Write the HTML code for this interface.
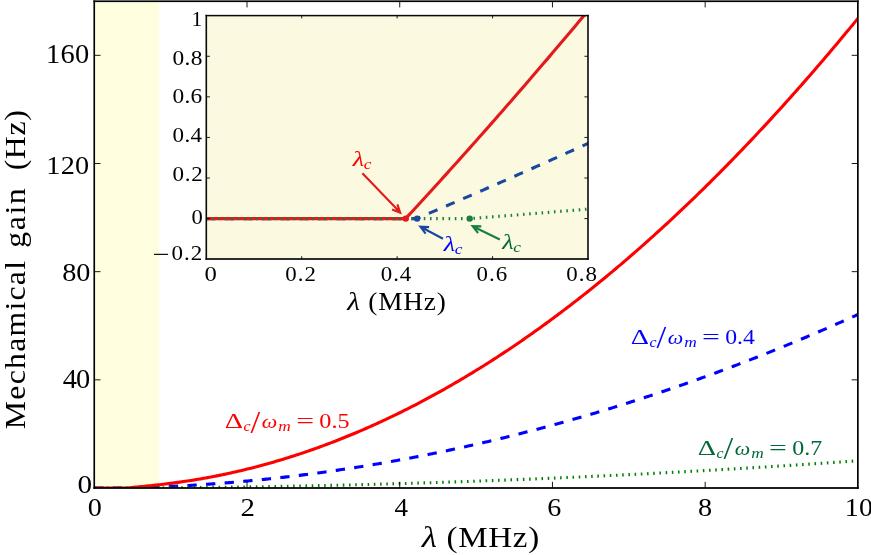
<!DOCTYPE html>
<html lang="en">
<head>
<meta charset="utf-8">
<title>Mechanical gain vs lambda</title>
<style>
html,body{margin:0;padding:0;background:#fff;}
body{width:871px;height:555px;overflow:hidden;}
svg{display:block;}
text{font-family:"Liberation Serif","DejaVu Serif",serif;}
</style>
</head>
<body>
<svg width="871" height="555" viewBox="0 0 871 555">
<rect x="0" y="0" width="871" height="555" fill="#fff"/>
<!-- shaded band -->
<rect x="94.3" y="1.25" width="64.9" height="486.75" fill="#ffffe0"/>
<!-- main curves -->
<defs><clipPath id="cm"><rect x="94.3" y="1.25" width="763.6" height="486.75"/></clipPath><clipPath id="ci"><rect x="206.3" y="15.6" width="381.7" height="243.4"/></clipPath></defs>
<g fill="none" stroke-linejoin="round" stroke-width="3.1" clip-path="url(#cm)">
<path d="M94.3,488 L127.97,488 L129.82,487.96 L131.66,487.91 L133.51,487.86 L135.35,487.81 L137.19,487.76 L139.04,487.71 L140.88,487.65 L142.73,487.59 L144.57,487.53 L146.41,487.47 L148.26,487.4 L150.1,487.34 L151.95,487.27 L153.79,487.2 L155.63,487.13 L157.48,487.05 L159.32,486.98 L161.17,486.9 L163.01,486.82 L164.85,486.74 L166.7,486.65 L168.54,486.57 L170.38,486.48 L172.23,486.39 L174.07,486.3 L175.92,486.2 L177.76,486.11 L179.6,486.01 L181.45,485.91 L183.29,485.81 L185.14,485.7 L186.98,485.6 L188.82,485.49 L190.67,485.38 L192.51,485.27 L194.36,485.15 L196.2,485.04 L198.04,484.92 L199.89,484.8 L201.73,484.68 L203.57,484.55 L205.42,484.43 L207.26,484.3 L209.11,484.17 L210.95,484.04 L212.79,483.9 L214.64,483.77 L216.48,483.63 L218.33,483.49 L220.17,483.35 L222.01,483.2 L223.86,483.06 L225.7,482.91 L227.55,482.76 L229.39,482.61 L231.23,482.46 L233.08,482.3 L234.92,482.14 L236.77,481.98 L238.61,481.82 L240.45,481.66 L242.3,481.49 L244.14,481.32 L245.98,481.15 L247.83,480.98 L249.67,480.81 L251.52,480.63 L253.36,480.45 L255.2,480.27 L257.05,480.09 L258.89,479.91 L260.74,479.72 L262.58,479.53 L264.42,479.34 L266.27,479.15 L268.11,478.96 L269.96,478.76 L271.8,478.56 L273.64,478.36 L275.49,478.16 L277.33,477.96 L279.17,477.75 L281.02,477.55 L282.86,477.34 L284.71,477.12 L286.55,476.91 L288.39,476.69 L290.24,476.48 L292.08,476.26 L293.93,476.03 L295.77,475.81 L297.61,475.59 L299.46,475.36 L301.3,475.13 L303.15,474.9 L304.99,474.66 L306.83,474.43 L308.68,474.19 L310.52,473.95 L312.37,473.71 L314.21,473.46 L316.05,473.22 L317.9,472.97 L319.74,472.72 L321.58,472.47 L323.43,472.21 L325.27,471.96 L327.12,471.7 L328.96,471.44 L330.8,471.18 L332.65,470.92 L334.49,470.65 L336.34,470.38 L338.18,470.11 L340.02,469.84 L341.87,469.57 L343.71,469.29 L345.56,469.01 L347.4,468.73 L349.24,468.45 L351.09,468.17 L352.93,467.88 L354.77,467.6 L356.62,467.31 L358.46,467.01 L360.31,466.72 L362.15,466.43 L363.99,466.13 L365.84,465.83 L367.68,465.53 L369.53,465.22 L371.37,464.92 L373.21,464.61 L375.06,464.3 L376.9,463.99 L378.75,463.67 L380.59,463.36 L382.43,463.04 L384.28,462.72 L386.12,462.4 L387.97,462.08 L389.81,461.75 L391.65,461.42 L393.5,461.09 L395.34,460.76 L397.18,460.43 L399.03,460.09 L400.87,459.76 L402.72,459.42 L404.56,459.07 L406.4,458.73 L408.25,458.39 L410.09,458.04 L411.94,457.69 L413.78,457.34 L415.62,456.98 L417.47,456.63 L419.31,456.27 L421.16,455.91 L423,455.55 L424.84,455.19 L426.69,454.82 L428.53,454.45 L430.37,454.08 L432.22,453.71 L434.06,453.34 L435.91,452.96 L437.75,452.59 L439.59,452.21 L441.44,451.82 L443.28,451.44 L445.13,451.06 L446.97,450.67 L448.81,450.28 L450.66,449.89 L452.5,449.49 L454.35,449.1 L456.19,448.7 L458.03,448.3 L459.88,447.9 L461.72,447.5 L463.57,447.09 L465.41,446.68 L467.25,446.27 L469.1,445.86 L470.94,445.45 L472.78,445.03 L474.63,444.62 L476.47,444.2 L478.32,443.78 L480.16,443.35 L482,442.93 L483.85,442.5 L485.69,442.07 L487.54,441.64 L489.38,441.21 L491.22,440.77 L493.07,440.33 L494.91,439.89 L496.76,439.45 L498.6,439.01 L500.44,438.56 L502.29,438.12 L504.13,437.67 L505.97,437.22 L507.82,436.76 L509.66,436.31 L511.51,435.85 L513.35,435.39 L515.19,434.93 L517.04,434.47 L518.88,434 L520.73,433.53 L522.57,433.06 L524.41,432.59 L526.26,432.12 L528.1,431.64 L529.95,431.17 L531.79,430.69 L533.63,430.21 L535.48,429.72 L537.32,429.24 L539.17,428.75 L541.01,428.26 L542.85,427.77 L544.7,427.28 L546.54,426.78 L548.38,426.28 L550.23,425.78 L552.07,425.28 L553.92,424.78 L555.76,424.27 L557.6,423.77 L559.45,423.26 L561.29,422.75 L563.14,422.23 L564.98,421.72 L566.82,421.2 L568.67,420.68 L570.51,420.16 L572.36,419.64 L574.2,419.11 L576.04,418.58 L577.89,418.06 L579.73,417.52 L581.57,416.99 L583.42,416.46 L585.26,415.92 L587.11,415.38 L588.95,414.84 L590.79,414.3 L592.64,413.75 L594.48,413.2 L596.33,412.65 L598.17,412.1 L600.01,411.55 L601.86,410.99 L603.7,410.44 L605.55,409.88 L607.39,409.32 L609.23,408.75 L611.08,408.19 L612.92,407.62 L614.77,407.05 L616.61,406.48 L618.45,405.91 L620.3,405.33 L622.14,404.76 L623.98,404.18 L625.83,403.6 L627.67,403.01 L629.52,402.43 L631.36,401.84 L633.2,401.25 L635.05,400.66 L636.89,400.07 L638.74,399.47 L640.58,398.87 L642.42,398.28 L644.27,397.67 L646.11,397.07 L647.96,396.47 L649.8,395.86 L651.64,395.25 L653.49,394.64 L655.33,394.03 L657.17,393.41 L659.02,392.79 L660.86,392.18 L662.71,391.55 L664.55,390.93 L666.39,390.31 L668.24,389.68 L670.08,389.05 L671.93,388.42 L673.77,387.79 L675.61,387.15 L677.46,386.51 L679.3,385.88 L681.15,385.23 L682.99,384.59 L684.83,383.95 L686.68,383.3 L688.52,382.65 L690.37,382 L692.21,381.35 L694.05,380.69 L695.9,380.03 L697.74,379.38 L699.58,378.71 L701.43,378.05 L703.27,377.39 L705.12,376.72 L706.96,376.05 L708.8,375.38 L710.65,374.71 L712.49,374.03 L714.34,373.36 L716.18,372.68 L718.02,372 L719.87,371.31 L721.71,370.63 L723.56,369.94 L725.4,369.25 L727.24,368.56 L729.09,367.87 L730.93,367.17 L732.77,366.48 L734.62,365.78 L736.46,365.08 L738.31,364.37 L740.15,363.67 L741.99,362.96 L743.84,362.25 L745.68,361.54 L747.53,360.83 L749.37,360.11 L751.21,359.4 L753.06,358.68 L754.9,357.96 L756.75,357.23 L758.59,356.51 L760.43,355.78 L762.28,355.05 L764.12,354.32 L765.97,353.59 L767.81,352.86 L769.65,352.12 L771.5,351.38 L773.34,350.64 L775.18,349.9 L777.03,349.15 L778.87,348.41 L780.72,347.66 L782.56,346.91 L784.4,346.15 L786.25,345.4 L788.09,344.64 L789.94,343.88 L791.78,343.12 L793.62,342.36 L795.47,341.59 L797.31,340.83 L799.16,340.06 L801,339.29 L802.84,338.52 L804.69,337.74 L806.53,336.96 L808.38,336.19 L810.22,335.4 L812.06,334.62 L813.91,333.84 L815.75,333.05 L817.59,332.26 L819.44,331.47 L821.28,330.68 L823.13,329.88 L824.97,329.09 L826.81,328.29 L828.66,327.49 L830.5,326.68 L832.35,325.88 L834.19,325.07 L836.03,324.26 L837.88,323.45 L839.72,322.64 L841.57,321.83 L843.41,321.01 L845.25,320.19 L847.1,319.37 L848.94,318.55 L850.78,317.72 L852.63,316.9 L854.47,316.07 L856.32,315.24 L858.16,314.4 L860,313.57 L861.85,312.73 L863.69,311.89 L865.54,311.05" stroke="#0000ff" stroke-dasharray="9.32 9.32"/>
<path d="M94.3,488 L126.22,488 L128.07,487.83 L129.92,487.67 L131.76,487.5 L133.61,487.33 L135.46,487.16 L137.31,486.99 L139.16,486.82 L141,486.64 L142.85,486.46 L144.7,486.28 L146.55,486.09 L148.4,485.91 L150.25,485.72 L152.09,485.52 L153.94,485.32 L155.79,485.12 L157.64,484.91 L159.49,484.7 L161.34,484.49 L163.18,484.27 L165.03,484.05 L166.88,483.82 L168.73,483.59 L170.58,483.35 L172.43,483.11 L174.27,482.87 L176.12,482.62 L177.97,482.37 L179.82,482.11 L181.67,481.84 L183.52,481.57 L185.36,481.3 L187.21,481.02 L189.06,480.74 L190.91,480.45 L192.76,480.16 L194.61,479.86 L196.45,479.55 L198.3,479.24 L200.15,478.93 L202,478.61 L203.85,478.29 L205.7,477.96 L207.54,477.62 L209.39,477.28 L211.24,476.93 L213.09,476.58 L214.94,476.22 L216.78,475.86 L218.63,475.49 L220.48,475.12 L222.33,474.74 L224.18,474.36 L226.03,473.97 L227.87,473.57 L229.72,473.17 L231.57,472.76 L233.42,472.35 L235.27,471.93 L237.12,471.51 L238.96,471.08 L240.81,470.65 L242.66,470.21 L244.51,469.76 L246.36,469.31 L248.21,468.86 L250.05,468.4 L251.9,467.93 L253.75,467.46 L255.6,466.98 L257.45,466.49 L259.3,466.01 L261.14,465.51 L262.99,465.01 L264.84,464.51 L266.69,463.99 L268.54,463.48 L270.39,462.96 L272.23,462.43 L274.08,461.9 L275.93,461.36 L277.78,460.81 L279.63,460.26 L281.48,459.71 L283.32,459.15 L285.17,458.58 L287.02,458.01 L288.87,457.43 L290.72,456.85 L292.56,456.26 L294.41,455.67 L296.26,455.07 L298.11,454.46 L299.96,453.85 L301.81,453.24 L303.65,452.62 L305.5,451.99 L307.35,451.36 L309.2,450.72 L311.05,450.08 L312.9,449.43 L314.74,448.77 L316.59,448.12 L318.44,447.45 L320.29,446.78 L322.14,446.1 L323.99,445.42 L325.83,444.73 L327.68,444.04 L329.53,443.34 L331.38,442.64 L333.23,441.93 L335.08,441.22 L336.92,440.5 L338.77,439.77 L340.62,439.04 L342.47,438.3 L344.32,437.56 L346.17,436.81 L348.01,436.06 L349.86,435.3 L351.71,434.54 L353.56,433.77 L355.41,432.99 L357.26,432.21 L359.1,431.42 L360.95,430.63 L362.8,429.84 L364.65,429.03 L366.5,428.23 L368.34,427.41 L370.19,426.59 L372.04,425.77 L373.89,424.94 L375.74,424.1 L377.59,423.26 L379.43,422.41 L381.28,421.56 L383.13,420.7 L384.98,419.84 L386.83,418.97 L388.68,418.1 L390.52,417.22 L392.37,416.33 L394.22,415.44 L396.07,414.55 L397.92,413.64 L399.77,412.74 L401.61,411.82 L403.46,410.91 L405.31,409.98 L407.16,409.05 L409.01,408.12 L410.86,407.18 L412.7,406.23 L414.55,405.28 L416.4,404.32 L418.25,403.36 L420.1,402.39 L421.95,401.42 L423.79,400.44 L425.64,399.46 L427.49,398.47 L429.34,397.47 L431.19,396.47 L433.04,395.46 L434.88,394.45 L436.73,393.43 L438.58,392.41 L440.43,391.38 L442.28,390.35 L444.13,389.31 L445.97,388.26 L447.82,387.21 L449.67,386.16 L451.52,385.1 L453.37,384.03 L455.21,382.96 L457.06,381.88 L458.91,380.79 L460.76,379.7 L462.61,378.61 L464.46,377.51 L466.3,376.4 L468.15,375.29 L470,374.17 L471.85,373.05 L473.7,371.92 L475.55,370.79 L477.39,369.65 L479.24,368.51 L481.09,367.36 L482.94,366.2 L484.79,365.04 L486.64,363.87 L488.48,362.7 L490.33,361.52 L492.18,360.34 L494.03,359.15 L495.88,357.96 L497.73,356.76 L499.57,355.55 L501.42,354.34 L503.27,353.13 L505.12,351.9 L506.97,350.68 L508.82,349.44 L510.66,348.21 L512.51,346.96 L514.36,345.71 L516.21,344.46 L518.06,343.2 L519.91,341.93 L521.75,340.66 L523.6,339.38 L525.45,338.1 L527.3,336.81 L529.15,335.52 L530.99,334.22 L532.84,332.91 L534.69,331.6 L536.54,330.29 L538.39,328.97 L540.24,327.64 L542.08,326.31 L543.93,324.97 L545.78,323.63 L547.63,322.28 L549.48,320.92 L551.33,319.56 L553.17,318.2 L555.02,316.83 L556.87,315.45 L558.72,314.07 L560.57,312.68 L562.42,311.29 L564.26,309.89 L566.11,308.49 L567.96,307.08 L569.81,305.66 L571.66,304.24 L573.51,302.82 L575.35,301.38 L577.2,299.95 L579.05,298.5 L580.9,297.06 L582.75,295.6 L584.6,294.14 L586.44,292.68 L588.29,291.21 L590.14,289.73 L591.99,288.25 L593.84,286.77 L595.69,285.27 L597.53,283.78 L599.38,282.27 L601.23,280.76 L603.08,279.25 L604.93,277.73 L606.77,276.21 L608.62,274.68 L610.47,273.14 L612.32,271.6 L614.17,270.05 L616.02,268.5 L617.86,266.94 L619.71,265.38 L621.56,263.81 L623.41,262.23 L625.26,260.65 L627.11,259.07 L628.95,257.48 L630.8,255.88 L632.65,254.28 L634.5,252.67 L636.35,251.06 L638.2,249.44 L640.04,247.81 L641.89,246.18 L643.74,244.55 L645.59,242.91 L647.44,241.26 L649.29,239.61 L651.13,237.96 L652.98,236.29 L654.83,234.63 L656.68,232.95 L658.53,231.27 L660.38,229.59 L662.22,227.9 L664.07,226.2 L665.92,224.5 L667.77,222.8 L669.62,221.09 L671.47,219.37 L673.31,217.65 L675.16,215.92 L677.01,214.19 L678.86,212.45 L680.71,210.7 L682.55,208.95 L684.4,207.2 L686.25,205.44 L688.1,203.67 L689.95,201.9 L691.8,200.12 L693.64,198.34 L695.49,196.55 L697.34,194.76 L699.19,192.96 L701.04,191.16 L702.89,189.35 L704.73,187.53 L706.58,185.71 L708.43,183.89 L710.28,182.05 L712.13,180.22 L713.98,178.38 L715.82,176.53 L717.67,174.68 L719.52,172.82 L721.37,170.95 L723.22,169.08 L725.07,167.21 L726.91,165.33 L728.76,163.44 L730.61,161.55 L732.46,159.66 L734.31,157.75 L736.16,155.85 L738,153.93 L739.85,152.02 L741.7,150.09 L743.55,148.16 L745.4,146.23 L747.25,144.29 L749.09,142.35 L750.94,140.4 L752.79,138.44 L754.64,136.48 L756.49,134.51 L758.33,132.54 L760.18,130.56 L762.03,128.58 L763.88,126.59 L765.73,124.6 L767.58,122.6 L769.42,120.6 L771.27,118.59 L773.12,116.57 L774.97,114.55 L776.82,112.53 L778.67,110.5 L780.51,108.46 L782.36,106.42 L784.21,104.37 L786.06,102.32 L787.91,100.26 L789.76,98.2 L791.6,96.13 L793.45,94.06 L795.3,91.98 L797.15,89.89 L799,87.8 L800.85,85.71 L802.69,83.61 L804.54,81.5 L806.39,79.39 L808.24,77.27 L810.09,75.15 L811.94,73.03 L813.78,70.89 L815.63,68.76 L817.48,66.61 L819.33,64.46 L821.18,62.31 L823.03,60.15 L824.87,57.99 L826.72,55.82 L828.57,53.64 L830.42,51.46 L832.27,49.28 L834.12,47.09 L835.96,44.89 L837.81,42.69 L839.66,40.48 L841.51,38.27 L843.36,36.06 L845.2,33.83 L847.05,31.61 L848.9,29.37 L850.75,27.13 L852.6,24.89 L854.45,22.64 L856.29,20.39 L858.14,18.13 L859.99,15.87 L861.84,13.6 L863.69,11.33 L865.54,9.05" stroke="#ff0000"/>
<path d="M94.3,488 L136.45,488 L138.27,487.99 L140.1,487.98 L141.92,487.97 L143.74,487.97 L145.56,487.96 L147.39,487.95 L149.21,487.94 L151.03,487.93 L152.86,487.91 L154.68,487.9 L156.5,487.89 L158.32,487.88 L160.15,487.87 L161.97,487.86 L163.79,487.84 L165.61,487.83 L167.44,487.82 L169.26,487.8 L171.08,487.79 L172.9,487.78 L174.73,487.76 L176.55,487.75 L178.37,487.73 L180.2,487.72 L182.02,487.7 L183.84,487.69 L185.66,487.67 L187.49,487.65 L189.31,487.64 L191.13,487.62 L192.95,487.6 L194.78,487.58 L196.6,487.57 L198.42,487.55 L200.25,487.53 L202.07,487.51 L203.89,487.49 L205.71,487.47 L207.54,487.45 L209.36,487.43 L211.18,487.41 L213,487.39 L214.83,487.37 L216.65,487.35 L218.47,487.32 L220.3,487.3 L222.12,487.28 L223.94,487.26 L225.76,487.23 L227.59,487.21 L229.41,487.19 L231.23,487.16 L233.05,487.14 L234.88,487.11 L236.7,487.09 L238.52,487.07 L240.35,487.04 L242.17,487.01 L243.99,486.99 L245.81,486.96 L247.64,486.93 L249.46,486.91 L251.28,486.88 L253.1,486.85 L254.93,486.83 L256.75,486.8 L258.57,486.77 L260.4,486.74 L262.22,486.71 L264.04,486.68 L265.86,486.65 L267.69,486.62 L269.51,486.59 L271.33,486.56 L273.15,486.53 L274.98,486.5 L276.8,486.47 L278.62,486.43 L280.45,486.4 L282.27,486.37 L284.09,486.34 L285.91,486.3 L287.74,486.27 L289.56,486.24 L291.38,486.2 L293.2,486.17 L295.03,486.13 L296.85,486.1 L298.67,486.06 L300.49,486.03 L302.32,485.99 L304.14,485.96 L305.96,485.92 L307.79,485.88 L309.61,485.85 L311.43,485.81 L313.25,485.77 L315.08,485.73 L316.9,485.69 L318.72,485.66 L320.54,485.62 L322.37,485.58 L324.19,485.54 L326.01,485.5 L327.84,485.46 L329.66,485.42 L331.48,485.38 L333.3,485.34 L335.13,485.29 L336.95,485.25 L338.77,485.21 L340.59,485.17 L342.42,485.13 L344.24,485.08 L346.06,485.04 L347.89,485 L349.71,484.95 L351.53,484.91 L353.35,484.86 L355.18,484.82 L357,484.77 L358.82,484.73 L360.64,484.68 L362.47,484.64 L364.29,484.59 L366.11,484.54 L367.94,484.5 L369.76,484.45 L371.58,484.4 L373.4,484.35 L375.23,484.31 L377.05,484.26 L378.87,484.21 L380.69,484.16 L382.52,484.11 L384.34,484.06 L386.16,484.01 L387.99,483.96 L389.81,483.91 L391.63,483.86 L393.45,483.81 L395.28,483.76 L397.1,483.71 L398.92,483.65 L400.74,483.6 L402.57,483.55 L404.39,483.49 L406.21,483.44 L408.03,483.39 L409.86,483.33 L411.68,483.28 L413.5,483.23 L415.33,483.17 L417.15,483.12 L418.97,483.06 L420.79,483 L422.62,482.95 L424.44,482.89 L426.26,482.83 L428.08,482.78 L429.91,482.72 L431.73,482.66 L433.55,482.6 L435.38,482.55 L437.2,482.49 L439.02,482.43 L440.84,482.37 L442.67,482.31 L444.49,482.25 L446.31,482.19 L448.13,482.13 L449.96,482.07 L451.78,482.01 L453.6,481.95 L455.43,481.89 L457.25,481.82 L459.07,481.76 L460.89,481.7 L462.72,481.64 L464.54,481.57 L466.36,481.51 L468.18,481.45 L470.01,481.38 L471.83,481.32 L473.65,481.25 L475.48,481.19 L477.3,481.12 L479.12,481.06 L480.94,480.99 L482.77,480.92 L484.59,480.86 L486.41,480.79 L488.23,480.72 L490.06,480.66 L491.88,480.59 L493.7,480.52 L495.53,480.45 L497.35,480.38 L499.17,480.31 L500.99,480.25 L502.82,480.18 L504.64,480.11 L506.46,480.04 L508.28,479.97 L510.11,479.89 L511.93,479.82 L513.75,479.75 L515.58,479.68 L517.4,479.61 L519.22,479.54 L521.04,479.46 L522.87,479.39 L524.69,479.32 L526.51,479.24 L528.33,479.17 L530.16,479.1 L531.98,479.02 L533.8,478.95 L535.62,478.87 L537.45,478.8 L539.27,478.72 L541.09,478.64 L542.92,478.57 L544.74,478.49 L546.56,478.41 L548.38,478.34 L550.21,478.26 L552.03,478.18 L553.85,478.1 L555.67,478.02 L557.5,477.95 L559.32,477.87 L561.14,477.79 L562.97,477.71 L564.79,477.63 L566.61,477.55 L568.43,477.47 L570.26,477.39 L572.08,477.3 L573.9,477.22 L575.72,477.14 L577.55,477.06 L579.37,476.98 L581.19,476.89 L583.02,476.81 L584.84,476.73 L586.66,476.64 L588.48,476.56 L590.31,476.48 L592.13,476.39 L593.95,476.31 L595.77,476.22 L597.6,476.14 L599.42,476.05 L601.24,475.96 L603.07,475.88 L604.89,475.79 L606.71,475.7 L608.53,475.62 L610.36,475.53 L612.18,475.44 L614,475.35 L615.82,475.26 L617.65,475.17 L619.47,475.08 L621.29,475 L623.12,474.91 L624.94,474.82 L626.76,474.72 L628.58,474.63 L630.41,474.54 L632.23,474.45 L634.05,474.36 L635.87,474.27 L637.7,474.18 L639.52,474.08 L641.34,473.99 L643.16,473.9 L644.99,473.8 L646.81,473.71 L648.63,473.62 L650.46,473.52 L652.28,473.43 L654.1,473.33 L655.92,473.24 L657.75,473.14 L659.57,473.04 L661.39,472.95 L663.21,472.85 L665.04,472.75 L666.86,472.66 L668.68,472.56 L670.51,472.46 L672.33,472.36 L674.15,472.27 L675.97,472.17 L677.8,472.07 L679.62,471.97 L681.44,471.87 L683.26,471.77 L685.09,471.67 L686.91,471.57 L688.73,471.47 L690.56,471.37 L692.38,471.26 L694.2,471.16 L696.02,471.06 L697.85,470.96 L699.67,470.86 L701.49,470.75 L703.31,470.65 L705.14,470.55 L706.96,470.44 L708.78,470.34 L710.61,470.23 L712.43,470.13 L714.25,470.02 L716.07,469.92 L717.9,469.81 L719.72,469.71 L721.54,469.6 L723.36,469.49 L725.19,469.39 L727.01,469.28 L728.83,469.17 L730.66,469.06 L732.48,468.95 L734.3,468.85 L736.12,468.74 L737.95,468.63 L739.77,468.52 L741.59,468.41 L743.41,468.3 L745.24,468.19 L747.06,468.08 L748.88,467.97 L750.71,467.86 L752.53,467.74 L754.35,467.63 L756.17,467.52 L758,467.41 L759.82,467.29 L761.64,467.18 L763.46,467.07 L765.29,466.95 L767.11,466.84 L768.93,466.73 L770.75,466.61 L772.58,466.5 L774.4,466.38 L776.22,466.27 L778.05,466.15 L779.87,466.03 L781.69,465.92 L783.51,465.8 L785.34,465.68 L787.16,465.57 L788.98,465.45 L790.8,465.33 L792.63,465.21 L794.45,465.09 L796.27,464.97 L798.1,464.85 L799.92,464.74 L801.74,464.62 L803.56,464.5 L805.39,464.37 L807.21,464.25 L809.03,464.13 L810.85,464.01 L812.68,463.89 L814.5,463.77 L816.32,463.65 L818.15,463.52 L819.97,463.4 L821.79,463.28 L823.61,463.15 L825.44,463.03 L827.26,462.91 L829.08,462.78 L830.9,462.66 L832.73,462.53 L834.55,462.41 L836.37,462.28 L838.2,462.15 L840.02,462.03 L841.84,461.9 L843.66,461.77 L845.49,461.65 L847.31,461.52 L849.13,461.39 L850.95,461.26 L852.78,461.13 L854.6,461.01 L856.42,460.88 L858.25,460.75 L860.07,460.62 L861.89,460.49 L863.71,460.36 L865.54,460.23" stroke="#008000" stroke-dasharray="1.553 4.66"/>
</g>
<path d="M247.02,488 v-6.2 M247.02,1.25 v6.2 M399.74,488 v-6.2 M399.74,1.25 v6.2 M552.46,488 v-6.2 M552.46,1.25 v6.2 M705.18,488 v-6.2 M705.18,1.25 v6.2 M94.3,379.83 h6.2 M857.9,379.83 h-6.2 M94.3,271.67 h6.2 M857.9,271.67 h-6.2 M94.3,163.5 h6.2 M857.9,163.5 h-6.2 M94.3,55.33 h6.2 M857.9,55.33 h-6.2" stroke="#000" stroke-width="0.9" fill="none"/>
<g fill="#000"><rect x="93.425" y="0.400" width="1.650" height="488.475"/><rect x="857.000" y="0.400" width="1.700" height="488.475"/><rect x="93.425" y="0.400" width="765.275" height="1.700"/><rect x="93.425" y="487.125" width="765.275" height="1.750"/></g>
<!-- main tick labels -->
<text transform="translate(63.2,388.3) scale(1.0800,1)" font-size="26.32" fill="#000"><tspan x="-0.53" y="0" letter-spacing="-0.729">40</tspan></text>
<text transform="translate(63.2,280.9) scale(1.0800,1)" font-size="26.17" fill="#000"><tspan x="-0.98" y="0" letter-spacing="-0.129">80</tspan></text>
<text transform="translate(48.8,173.5) scale(1.0800,1)" font-size="26.17" fill="#000"><tspan x="-2.29" y="0" letter-spacing="0.159">120</tspan></text>
<text transform="translate(48.4,63) scale(1.0800,1)" font-size="26.32" fill="#000"><tspan x="-2.3" y="0" letter-spacing="0.334">160</tspan></text>
<text transform="translate(78.6,493.2) scale(1.0800,1)" font-size="25.86" fill="#000"><tspan x="-1.01" y="0" textLength="13.51" lengthAdjust="spacingAndGlyphs">0</tspan></text>
<text transform="translate(88.9,516.4) scale(1.0800,1)" font-size="25.86" fill="#000"><tspan x="-0.98" y="0" textLength="13.07" lengthAdjust="spacingAndGlyphs">0</tspan></text>
<text transform="translate(241.7,516.4) scale(1.0800,1)" font-size="25.96" fill="#000"><tspan x="-1.13" y="0" textLength="13.34" lengthAdjust="spacingAndGlyphs">2</tspan></text>
<text transform="translate(395.1,516.4) scale(1.0800,1)" font-size="26.16" fill="#000"><tspan x="-0.5" y="0" textLength="12.54" lengthAdjust="spacingAndGlyphs">4</tspan></text>
<text transform="translate(548.4,516.4) scale(1.0800,1)" font-size="25.96" fill="#000"><tspan x="-1.1" y="0" textLength="13.00" lengthAdjust="spacingAndGlyphs">6</tspan></text>
<text transform="translate(699,516.4) scale(1.0800,1)" font-size="25.86" fill="#000"><tspan x="-0.98" y="0" textLength="13.07" lengthAdjust="spacingAndGlyphs">8</tspan></text>
<text transform="translate(847.2,516.4) scale(1.0800,1)" font-size="25.86" fill="#000"><tspan x="-2.26" y="0" letter-spacing="0.146">10</tspan></text>
<!-- axis labels -->
<text transform="translate(420.9,546.6) scale(1.1000,1)" font-size="30" fill="#000"><tspan x="0.79" y="0" textLength="13.75" lengthAdjust="spacingAndGlyphs" font-style="italic">λ</tspan> <tspan x="23.27" y="0" letter-spacing="0.669">(MHz)</tspan></text>
<text transform="translate(24.6,428.3) rotate(-90) scale(1.0600,1)" font-size="30" fill="#000"><tspan x="-0.83" y="0" letter-spacing="1.157">Mechamical</tspan> <tspan x="170.42" y="0" letter-spacing="1.432">gain</tspan> <tspan x="243.35" y="0" letter-spacing="0.575">(Hz)</tspan></text>
<!-- curve labels -->
<text transform="translate(225.8,427.7)" font-size="21.6" fill="#ff0000"><tspan x="-1.06" y="0" textLength="18.24" lengthAdjust="spacingAndGlyphs">Δ</tspan><tspan x="17.72" y="2.9" textLength="7.06" lengthAdjust="spacingAndGlyphs" font-style="italic" font-size="15.12">c</tspan><tspan x="24.7" y="4.8" textLength="9.71" lengthAdjust="spacingAndGlyphs" font-size="30.67">/</tspan><tspan x="35.99" y="0" textLength="15.47" lengthAdjust="spacingAndGlyphs" font-style="italic" font-size="19.87">ω</tspan><tspan x="52.49" y="3.1" textLength="12.54" lengthAdjust="spacingAndGlyphs" font-style="italic" font-size="15.12">m</tspan> <tspan x="70.42" y="0" textLength="17.83" lengthAdjust="spacingAndGlyphs">=</tspan> <tspan x="93.49" y="0" textLength="30.28" lengthAdjust="spacingAndGlyphs">0.5</tspan></text>
<text transform="translate(631.7,343.6)" font-size="21.6" fill="#0000ff"><tspan x="-1.06" y="0" textLength="18.24" lengthAdjust="spacingAndGlyphs">Δ</tspan><tspan x="17.72" y="2.9" textLength="7.06" lengthAdjust="spacingAndGlyphs" font-style="italic" font-size="15.12">c</tspan><tspan x="24.7" y="4.8" textLength="9.71" lengthAdjust="spacingAndGlyphs" font-size="30.67">/</tspan><tspan x="35.99" y="0" textLength="15.47" lengthAdjust="spacingAndGlyphs" font-style="italic" font-size="19.87">ω</tspan><tspan x="52.49" y="3.1" textLength="12.54" lengthAdjust="spacingAndGlyphs" font-style="italic" font-size="15.12">m</tspan> <tspan x="70.42" y="0" textLength="17.83" lengthAdjust="spacingAndGlyphs">=</tspan> <tspan x="93.51" y="0" textLength="29.65" lengthAdjust="spacingAndGlyphs">0.4</tspan></text>
<text transform="translate(698.7,454.6)" font-size="21.6" fill="#006837"><tspan x="-1.06" y="0" textLength="18.24" lengthAdjust="spacingAndGlyphs">Δ</tspan><tspan x="17.72" y="2.9" textLength="7.06" lengthAdjust="spacingAndGlyphs" font-style="italic" font-size="15.12">c</tspan><tspan x="24.7" y="4.8" textLength="9.71" lengthAdjust="spacingAndGlyphs" font-size="30.67">/</tspan><tspan x="35.99" y="0" textLength="15.47" lengthAdjust="spacingAndGlyphs" font-style="italic" font-size="19.87">ω</tspan><tspan x="52.49" y="3.1" textLength="12.54" lengthAdjust="spacingAndGlyphs" font-style="italic" font-size="15.12">m</tspan> <tspan x="70.42" y="0" textLength="17.83" lengthAdjust="spacingAndGlyphs">=</tspan> <tspan x="93.5" y="0" textLength="29.96" lengthAdjust="spacingAndGlyphs">0.7</tspan></text>
<!-- inset -->
<rect x="206.3" y="15.6" width="381.7" height="243.4" fill="#fbf9e0"/>
<g fill="none" stroke-linejoin="round" stroke-width="3.1" clip-path="url(#ci)">
<path d="M206.3,218.62 L416.71,218.62 L419.73,217.33 L422.74,216.05 L425.75,214.76 L428.77,213.48 L431.78,212.19 L434.8,210.9 L437.81,209.61 L440.82,208.32 L443.84,207.02 L446.85,205.73 L449.86,204.43 L452.88,203.13 L455.89,201.83 L458.91,200.53 L461.92,199.23 L464.93,197.92 L467.95,196.62 L470.96,195.31 L473.98,194 L476.99,192.69 L480,191.38 L483.02,190.07 L486.03,188.75 L489.04,187.43 L492.06,186.12 L495.07,184.8 L498.09,183.48 L501.1,182.16 L504.11,180.83 L507.13,179.51 L510.14,178.18 L513.15,176.85 L516.17,175.53 L519.18,174.19 L522.2,172.86 L525.21,171.53 L528.22,170.19 L531.24,168.86 L534.25,167.52 L537.27,166.18 L540.28,164.84 L543.29,163.5 L546.31,162.15 L549.32,160.81 L552.33,159.46 L555.35,158.11 L558.36,156.76 L561.38,155.41 L564.39,154.06 L567.4,152.71 L570.42,151.35 L573.43,149.99 L576.45,148.64 L579.46,147.28 L582.47,145.92 L585.49,144.55 L588.5,143.19 L591.51,141.82 L594.53,140.46 L597.54,139.09" stroke="#1a47a0" stroke-dasharray="9.32 9.32"/>
<path d="M206.3,218.62 L405.6,218.62 L408.79,215.15 L411.99,211.69 L415.19,208.21 L418.39,204.73 L421.59,201.24 L424.79,197.75 L427.99,194.25 L431.19,190.74 L434.39,187.23 L437.59,183.7 L440.79,180.18 L443.98,176.64 L447.18,173.1 L450.38,169.56 L453.58,166 L456.78,162.44 L459.98,158.88 L463.18,155.3 L466.38,151.73 L469.58,148.14 L472.78,144.55 L475.98,140.95 L479.17,137.34 L482.37,133.73 L485.57,130.11 L488.77,126.49 L491.97,122.86 L495.17,119.22 L498.37,115.57 L501.57,111.92 L504.77,108.26 L507.97,104.6 L511.17,100.93 L514.37,97.25 L517.56,93.57 L520.76,89.88 L523.96,86.18 L527.16,82.48 L530.36,78.77 L533.56,75.05 L536.76,71.33 L539.96,67.6 L543.16,63.86 L546.36,60.12 L549.56,56.37 L552.75,52.61 L555.95,48.85 L559.15,45.08 L562.35,41.31 L565.55,37.53 L568.75,33.74 L571.95,29.94 L575.15,26.14 L578.35,22.33 L581.55,18.52 L584.75,14.7 L587.95,10.87 L591.14,7.04 L594.07,3.52" stroke="#e41a1c"/>
<path d="M206.3,218.62 L469.67,218.62 L471.8,218.45 L473.94,218.29 L476.07,218.13 L478.2,217.96 L480.33,217.8 L482.46,217.63 L484.59,217.47 L486.72,217.3 L488.85,217.14 L490.98,216.97 L493.12,216.8 L495.25,216.64 L497.38,216.47 L499.51,216.3 L501.64,216.13 L503.77,215.96 L505.9,215.8 L508.03,215.63 L510.17,215.46 L512.3,215.29 L514.43,215.12 L516.56,214.95 L518.69,214.78 L520.82,214.61 L522.95,214.44 L525.08,214.27 L527.21,214.09 L529.35,213.92 L531.48,213.75 L533.61,213.58 L535.74,213.4 L537.87,213.23 L540,213.06 L542.13,212.88 L544.26,212.71 L546.39,212.53 L548.53,212.36 L550.66,212.18 L552.79,212.01 L554.92,211.83 L557.05,211.66 L559.18,211.48 L561.31,211.3 L563.44,211.12 L565.58,210.95 L567.71,210.77 L569.84,210.59 L571.97,210.41 L574.1,210.23 L576.23,210.05 L578.36,209.88 L580.49,209.7 L582.62,209.52 L584.76,209.33 L586.89,209.15 L589.02,208.97 L591.15,208.79 L593.28,208.61 L595.41,208.43 L597.54,208.24" stroke="#1b7e3d" stroke-dasharray="1.553 4.66"/>
</g>
<circle cx="405.74" cy="218.62" r="3.2" fill="#e41a1c"/>
<circle cx="417.09" cy="218.62" r="3.2" fill="#1a47a0"/>
<circle cx="469.67" cy="218.62" r="3.2" fill="#1b7e3d"/>
<path d="M362.4,173.2 L400.2,212.6 M392.06,209.46 L400.2,212.6 L397.4,204.34" fill="none" stroke="#e41a1c" stroke-width="2.1" stroke-linejoin="miter" stroke-linecap="butt"/>
<path d="M443,238.8 L420.4,226.7 M429.11,227.17 L420.4,226.7 L425.62,233.69" fill="none" stroke="#1a47a0" stroke-width="2.1" stroke-linejoin="miter" stroke-linecap="butt"/>
<path d="M499.8,239.5 L472.6,226.2 M481.32,226.35 L472.6,226.2 L478.07,232.99" fill="none" stroke="#1b7e3d" stroke-width="2.1" stroke-linejoin="miter" stroke-linecap="butt"/>
<text transform="translate(352,166)" font-size="21" fill="#ff0000"><tspan x="0.66" y="0" textLength="11.42" lengthAdjust="spacingAndGlyphs" font-style="italic">λ</tspan><tspan x="11.68" y="2.9" textLength="7.72" lengthAdjust="spacingAndGlyphs" font-style="italic" font-size="14.7">c</tspan></text>
<text transform="translate(443.1,250.8)" font-size="21" fill="#0000ff"><tspan x="0.66" y="0" textLength="11.42" lengthAdjust="spacingAndGlyphs" font-style="italic">λ</tspan><tspan x="11.68" y="2.9" textLength="7.72" lengthAdjust="spacingAndGlyphs" font-style="italic" font-size="14.7">c</tspan></text>
<text transform="translate(501.6,248.7)" font-size="21" fill="#006837"><tspan x="0.66" y="0" textLength="11.42" lengthAdjust="spacingAndGlyphs" font-style="italic">λ</tspan><tspan x="11.68" y="2.9" textLength="7.72" lengthAdjust="spacingAndGlyphs" font-style="italic" font-size="14.7">c</tspan></text>
<path d="M301.73,259.2 v-3.0 M301.73,15.7 v2.7 M397.15,259.2 v-3.0 M397.15,15.7 v2.7 M492.57,259.2 v-3.0 M492.57,15.7 v2.7 M206.3,218.62 h3.6 M588,218.62 h-3.6 M206.3,178.03 h3.6 M588,178.03 h-3.6 M206.3,137.45 h3.6 M588,137.45 h-3.6 M206.3,96.87 h3.6 M588,96.87 h-3.6 M206.3,56.28 h3.6 M588,56.28 h-3.6" stroke="#000" stroke-width="0.9" fill="none"/>
<g fill="#0a0a0a"><rect x="205.500" y="14.850" width="1.600" height="245.000"/><rect x="587.200" y="14.850" width="1.600" height="245.000"/><rect x="205.500" y="14.850" width="383.300" height="1.500"/><rect x="205.500" y="258.150" width="383.300" height="1.700"/></g>
<!-- inset tick labels -->
<text transform="translate(192.4,223.6) scale(1.0800,1)" font-size="21.5" fill="#000"><tspan x="-0.78" y="0" textLength="10.46" lengthAdjust="spacingAndGlyphs">0</tspan></text>
<text transform="translate(173.3,181.1) scale(1.0800,1)" font-size="21.35" fill="#000"><tspan x="-0.8" y="0" letter-spacing="0.744">0.2</tspan></text>
<text transform="translate(173.3,142.3) scale(1.0800,1)" font-size="21.35" fill="#000"><tspan x="-0.8" y="0" letter-spacing="0.409">0.4</tspan></text>
<text transform="translate(173.3,103.4) scale(1.0800,1)" font-size="21.65" fill="#000"><tspan x="-0.81" y="0" letter-spacing="0.299">0.6</tspan></text>
<text transform="translate(173.3,65) scale(1.0800,1)" font-size="21.65" fill="#000"><tspan x="-0.81" y="0" letter-spacing="0.380">0.8</tspan></text>
<text transform="translate(193.4,26) scale(1.0800,1)" font-size="21.21" fill="#000"><tspan x="-1.75" y="0" textLength="9.98" lengthAdjust="spacingAndGlyphs">1</tspan></text>
<text transform="translate(154,260.4) scale(1.0800,1)" font-size="21.3" fill="#000"><tspan x="-1.4" y="2" textLength="15.83" lengthAdjust="spacingAndGlyphs" font-size="23.43">−</tspan><tspan x="16.24" y="0" letter-spacing="0.913">0.2</tspan></text>
<text transform="translate(205.45,280.6) scale(1.0800,1)" font-size="21.2" fill="#000"><tspan x="-0.86" y="0" textLength="11.44" lengthAdjust="spacingAndGlyphs">0</tspan></text>
<text transform="translate(286,280.6) scale(1.0800,1)" font-size="21.2" fill="#000"><tspan x="-0.8" y="0" letter-spacing="0.970">0.2</tspan></text>
<text transform="translate(381.65,280.6) scale(1.0800,1)" font-size="21.2" fill="#000"><tspan x="-0.8" y="0" letter-spacing="0.870">0.4</tspan></text>
<text transform="translate(477.3,280.6) scale(1.0800,1)" font-size="21.2" fill="#000"><tspan x="-0.8" y="0" letter-spacing="0.982">0.6</tspan></text>
<text transform="translate(567.15,280.6) scale(1.0800,1)" font-size="21.2" fill="#000"><tspan x="-0.8" y="0" letter-spacing="0.923">0.8</tspan></text>
<text transform="translate(346.5,310.2) scale(1.1000,1)" font-size="24.8" fill="#000"><tspan x="0.67" y="0" textLength="11.56" lengthAdjust="spacingAndGlyphs" font-style="italic">λ</tspan> <tspan x="19.86" y="0" letter-spacing="0.754">(MHz)</tspan></text>
</svg>
</body>
</html>
